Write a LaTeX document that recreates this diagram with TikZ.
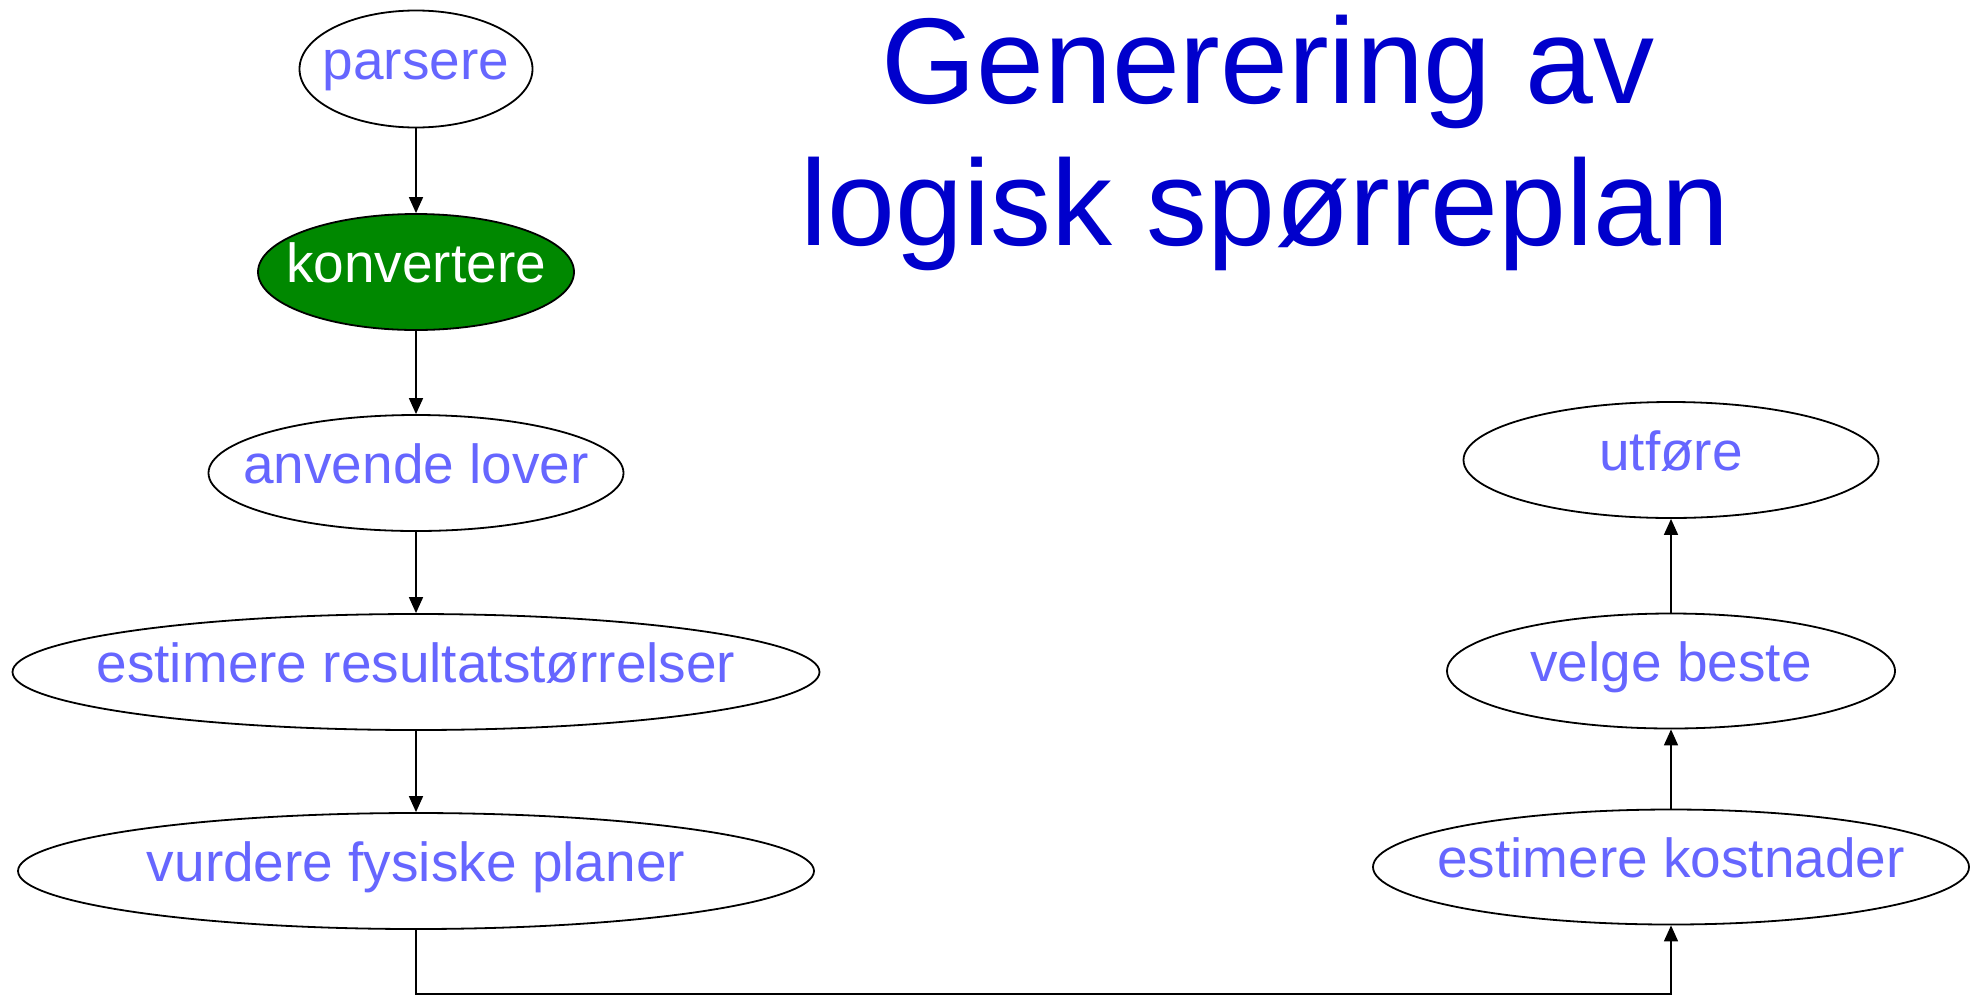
\documentclass[tikz,border=0pt]{standalone}
\usepackage{fontspec}
\setmainfont{Liberation Sans}
\usetikzlibrary{shapes.geometric,arrows.meta}
\definecolor{labelblue}{RGB}{102,102,255}
\definecolor{titleblue}{RGB}{0,0,204}
\definecolor{stepgreen}{RGB}{0,136,0}
\begin{document}
\begin{tikzpicture}[x=0.5pt,y=-0.5pt,
  stage/.style={ellipse, draw=black, line width=0.9pt, fill=white, inner sep=0pt,
    text=labelblue, font=\fontsize{27.5pt}{33pt}\selectfont,
    text height=15pt, text depth=4.5pt},
  active/.style={stage, fill=stepgreen, text=white},
  flow/.style={line width=0.8pt, -{Triangle[length=8pt,width=7pt]}},
  heading/.style={text=titleblue, font=\fontsize{61pt}{71pt}\selectfont,
    anchor=base, inner sep=0pt}]
\useasboundingbox (0,0) rectangle (1973,996);

% title
\node[heading] (title1) at (1268,103) {Generering av};
\node[heading] (title2) at (1265,245) {logisk spørreplan};

% left column
\node[stage,  minimum width=116.5pt, minimum height=58.5pt] (parse)   at (416,69)  {\makebox[0pt]{parsere}};
\node[active, minimum width=158pt,   minimum height=58pt]   (convert) at (416,272) {\makebox[0pt]{konvertere}};
\node[stage,  minimum width=207.5pt, minimum height=58pt]   (laws)    at (416,473) {\makebox[0pt]{anvende lover}};
\node[stage,  minimum width=403.5pt, minimum height=58pt]   (sizes)   at (416,672) {\makebox[0pt]{estimere resultatstørrelser}};
\node[stage,  minimum width=398pt,   minimum height=58pt]   (plans)   at (416,871) {\makebox[0pt]{vurdere fysiske planer}};

% right column
\node[stage, minimum width=207.5pt, minimum height=58pt]   (run)    at (1671,460) {\makebox[0pt]{utføre}};
\node[stage, minimum width=224pt,   minimum height=57.5pt] (best)   at (1671,671) {\makebox[0pt]{velge beste}};
\node[stage, minimum width=298pt,   minimum height=57.5pt] (costs)  at (1671,867) {\makebox[0pt]{estimere kostnader}};

% connectors
\draw[flow] (parse.south)   -- (convert.north);
\draw[flow] (convert.south) -- (laws.north);
\draw[flow] (laws.south)    -- (sizes.north);
\draw[flow] (sizes.south)   -- (plans.north);

\coordinate (bottom) at (416,994);
\draw[flow] (plans.south) -- (bottom) -| (costs.south);

\draw[flow] (costs.north) -- (best.south);
\draw[flow] (best.north)  -- (run.south);
\end{tikzpicture}
\end{document}
